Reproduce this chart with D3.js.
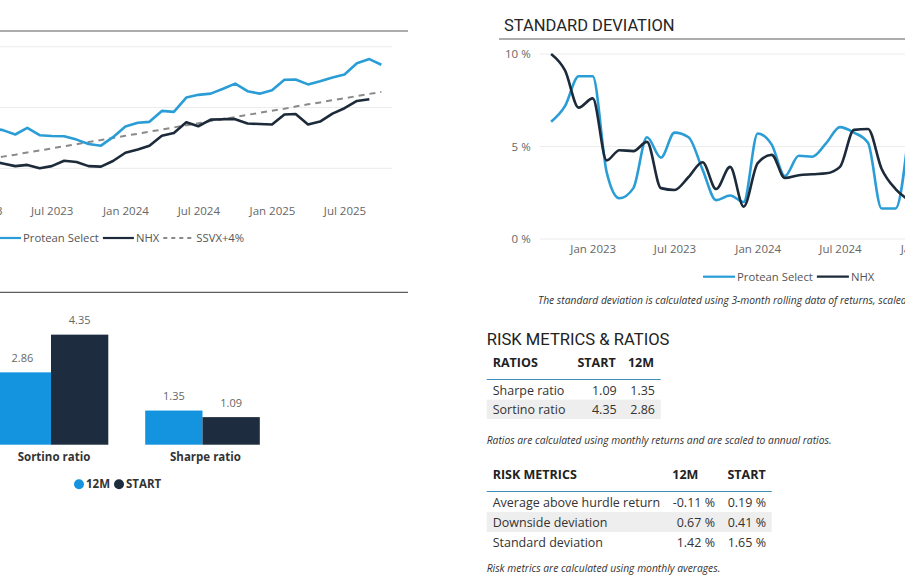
<!DOCTYPE html>
<html>
<head>
<meta charset="utf-8">
<script src="https://cdn.jsdelivr.net/npm/d3@7"></script>
<style>
  body { margin: 0; background: #fff; }
  svg { display: block; font-family: "Open Sans", sans-serif; }
</style>
</head>
<body>
<svg id="chart" width="905" height="582"></svg>
<script>
// ---- performance chart (cumulative index, monthly) ----
var perfMonths = ["2023-01","2023-02","2023-03","2023-04","2023-05","2023-06","2023-07","2023-08","2023-09","2023-10","2023-11","2023-12",
                  "2024-01","2024-02","2024-03","2024-04","2024-05","2024-06","2024-07","2024-08","2024-09","2024-10","2024-11","2024-12",
                  "2025-01","2025-02","2025-03","2025-04","2025-05","2025-06","2025-07","2025-08","2025-09","2025-10"];
var proteanSelect = [116.9,116.5,115.7,113.9,116.6,113.6,113.3,113.2,111.8,110.0,109.3,112.8,
                     117.2,118.7,119.1,123.6,123.2,129.1,130.2,130.7,132.7,134.8,131.7,130.7,
                     132.1,136.4,136.5,134.5,135.8,137.3,138.6,143.2,144.9,142.6];
var nhxIndex = [103.4,103.0,102.0,100.9,101.4,100.0,100.9,103.1,102.6,100.9,100.7,103.0,
                106.4,107.7,109.3,113.4,114.5,118.9,117.3,120.0,120.2,120.2,118.4,118.2,
                118.0,122.1,122.3,118.0,119.2,122.5,124.7,127.7,128.4];
var ssvxPlus4 = [103.0,103.9,104.8,105.6,106.5,107.3,108.2,109.1,109.9,110.8,111.6,112.5,
                 113.4,114.2,115.1,115.9,116.8,117.7,118.5,119.4,120.2,121.1,122.0,122.8,
                 123.7,124.5,125.4,126.3,127.1,128.0,128.8,129.7,130.6,131.4];
var perfTickMonths = ["2023-01","2023-07","2024-01","2024-07","2025-01","2025-07"];
var perfGridValues = [100, 125, 150];

// ---- standard deviation chart (3-month rolling, %) ----
var sdMonths = ["2022-10","2022-11","2022-12",
                "2023-01","2023-02","2023-03","2023-04","2023-05","2023-06","2023-07","2023-08","2023-09","2023-10","2023-11","2023-12",
                "2024-01","2024-02","2024-03","2024-04","2024-05","2024-06","2024-07","2024-08","2024-09","2024-10","2024-11","2024-12"];
var sdProtean = [6.34,7.2,8.8,
                 8.8,3.6,2.2,2.75,5.5,4.4,5.75,5.5,3.75,2.1,2.35,2.0,
                 5.7,5.1,3.4,4.5,4.45,5.2,6.05,5.75,5.2,1.65,1.65,6.0];
var sdNhx = [10.0,9.1,7.1,
             7.6,4.25,4.8,4.75,5.25,2.75,2.65,3.35,4.15,2.7,3.9,1.75,
             4.1,4.55,3.3,3.45,3.5,3.55,3.9,5.9,5.95,3.8,2.7,2.1];
var sdTickMonths = ["2023-01","2023-07","2024-01","2024-07","2025-01"];
var sdTickValues = [0, 5, 10];

// ---- ratio bars ----
var ratioCategories = ["Sortino ratio", "Sharpe ratio"];
var ratio12M = [2.86, 1.35];
var ratioStart = [4.35, 1.09];

// ---- tables ----
var ratioTableNames = ["Sharpe ratio", "Sortino ratio"];
var ratioTableStart = ["1.09", "4.35"];
var ratioTable12M = ["1.35", "2.86"];
var riskTableNames = ["Average above hurdle return", "Downside deviation", "Standard deviation"];
var riskTable12M = ["-0.11 %", "0.67 %", "1.42 %"];
var riskTableStart = ["0.19 %", "0.41 %", "1.65 %"];

var lineBlue = "#2a9dd6", lineDark = "#1c2a3a", barBlue = "#1494df", barDark = "#1d2c3e";
var titleFont = "Roboto, 'Open Sans', sans-serif";
var parseMonth = d3.timeParse("%Y-%m");
var svg = d3.select("#chart");

function headerRule(x1, x2, y) {
    svg.append("line").attr("x1", x1).attr("x2", x2).attr("y1", y).attr("y2", y)
        .attr("stroke", "#5c5c5c").attr("stroke-width", 1.2);
}

function drawLegend(g, items, startX, y, markerLength) {
    var cursor = startX;
    items.forEach(function (item) {
        g.append("line").attr("x1", cursor).attr("x2", cursor + markerLength)
            .attr("y1", y).attr("y2", y)
            .attr("stroke", item.color).attr("stroke-width", 2.2)
            .attr("stroke-dasharray", item.dash || null);
        var label = g.append("text").attr("x", cursor + markerLength + 2).attr("y", y)
            .attr("dy", "0.35em").attr("font-size", 11.3).attr("fill", "#555").text(item.name);
        cursor += markerLength + 2 + label.node().getComputedTextLength() + 4;
    });
}

function drawPerformanceChart() {
    var g = svg.append("g");
    var xScale = d3.scaleTime().domain([parseMonth("2023-07"), parseMonth("2025-01")]).range([51.7, 272]);
    var yScale = d3.scaleLinear().domain([100, 150]).range([168.3, 46.7]);

    headerRule(0, 408, 31);

    g.selectAll(".grid").data(perfGridValues).enter().append("line")
        .attr("x1", -80).attr("x2", 392)
        .attr("y1", function (d) { return yScale(d); })
        .attr("y2", function (d) { return yScale(d); })
        .attr("stroke", "#ececec");

    var xAxis = g.append("g").attr("transform", "translate(0,211)")
        .call(d3.axisBottom(xScale).tickValues(perfTickMonths.map(parseMonth))
            .tickFormat(d3.timeFormat("%b %Y")).tickSize(0));
    xAxis.select(".domain").remove();
    xAxis.selectAll("text").attr("y", 0).attr("dy", "0.35em")
        .attr("font-family", "Open Sans").attr("font-size", 11.5).attr("fill", "#666");

    var line = d3.line()
        .x(function (d) { return xScale(d.date); })
        .y(function (d) { return yScale(d.value); });
    function series(values) {
        return values.map(function (v, i) { return { date: parseMonth(perfMonths[i]), value: v }; });
    }
    g.append("path").datum(series(ssvxPlus4)).attr("d", line)
        .attr("fill", "none").attr("stroke", "#8a8a8a").attr("stroke-width", 2)
        .attr("stroke-dasharray", "6,5");
    g.append("path").datum(series(nhxIndex)).attr("d", line)
        .attr("fill", "none").attr("stroke", lineDark).attr("stroke-width", 2.6)
        .attr("stroke-linejoin", "round");
    g.append("path").datum(series(proteanSelect)).attr("d", line)
        .attr("fill", "none").attr("stroke", lineBlue).attr("stroke-width", 2.6)
        .attr("stroke-linejoin", "round");

    drawLegend(g, [
        { name: "Protean Select", color: lineBlue },
        { name: "NHX", color: lineDark },
        { name: "SSVX+4%", color: "#8a8a8a", dash: "4,4" }
    ], -10, 238, 31);
}

function drawStdDevChart() {
    var g = svg.append("g");
    var xScale = d3.scaleTime().domain([parseMonth("2023-01"), parseMonth("2024-01")]).range([592.7, 757.7]);
    var yScale = d3.scaleLinear().domain([0, 10]).range([239, 54]);

    svg.append("text").attr("x", 504).attr("y", 30.5).attr("font-family", titleFont)
        .attr("font-size", 16.5).attr("fill", "#252525").text("STANDARD DEVIATION");
    headerRule(499, 905, 39);

    g.selectAll(".grid").data(sdTickValues).enter().append("line")
        .attr("x1", 540).attr("x2", 905)
        .attr("y1", function (d) { return yScale(d); })
        .attr("y2", function (d) { return yScale(d); })
        .attr("stroke", "#ececec");
    g.selectAll(".ylab").data(sdTickValues).enter().append("text")
        .attr("x", 530.7).attr("y", function (d) { return yScale(d); }).attr("dy", "0.35em")
        .attr("text-anchor", "end").attr("font-size", 11.5).attr("fill", "#666")
        .text(function (d) { return d + " %"; });

    var xAxis = g.append("g").attr("transform", "translate(0,249)")
        .call(d3.axisBottom(xScale).tickValues(sdTickMonths.map(parseMonth))
            .tickFormat(d3.timeFormat("%b %Y")).tickSize(0));
    xAxis.select(".domain").remove();
    xAxis.selectAll("text").attr("y", 0).attr("dy", "0.35em")
        .attr("font-family", "Open Sans").attr("font-size", 11.5).attr("fill", "#666");

    var line = d3.line().curve(d3.curveMonotoneX)
        .x(function (d) { return xScale(d.date); })
        .y(function (d) { return yScale(d.value); });
    function series(values) {
        return values.map(function (v, i) { return { date: parseMonth(sdMonths[i]), value: v }; });
    }
    g.append("path").datum(series(sdProtean)).attr("d", line)
        .attr("fill", "none").attr("stroke", lineBlue).attr("stroke-width", 2.6);
    g.append("path").datum(series(sdNhx)).attr("d", line)
        .attr("fill", "none").attr("stroke", lineDark).attr("stroke-width", 2.6);

    drawLegend(g, [
        { name: "Protean Select", color: lineBlue },
        { name: "NHX", color: lineDark }
    ], 703, 276.7, 32);

    g.append("text").attr("x", 538).attr("y", 300).attr("dy", "0.35em")
        .attr("font-size", 10.3).attr("font-style", "italic").attr("fill", "#333")
        .text("The standard deviation is calculated using 3-month rolling data of returns, scaled to annual values.");
}

function drawRatioBars() {
    var g = svg.append("g");
    headerRule(0, 408, 292.3);

    var x0 = d3.scaleBand().domain(ratioCategories).range([-6.3, 259.8]).paddingInner(0.2436);
    var x1 = d3.scaleBand().domain(["12M", "START"]).range([0, x0.bandwidth()]);
    var yScale = d3.scaleLinear().domain([0, 5]).range([444.7, 318.2]);

    var bars = [];
    ratioCategories.forEach(function (c, i) {
        bars.push({ cat: c, key: "12M", value: ratio12M[i], color: barBlue });
        bars.push({ cat: c, key: "START", value: ratioStart[i], color: barDark });
    });

    g.selectAll("rect").data(bars).enter().append("rect")
        .attr("x", function (d) { return x0(d.cat) + x1(d.key); })
        .attr("y", function (d) { return yScale(d.value); })
        .attr("width", x1.bandwidth())
        .attr("height", function (d) { return yScale(0) - yScale(d.value); })
        .attr("fill", function (d) { return d.color; });

    g.selectAll(".val").data(bars).enter().append("text")
        .attr("x", function (d) { return x0(d.cat) + x1(d.key) + x1.bandwidth() / 2; })
        .attr("y", function (d) { return yScale(d.value) - 14; }).attr("dy", "0.35em")
        .attr("text-anchor", "middle").attr("font-size", 11).attr("fill", "#666")
        .text(function (d) { return d.value.toFixed(2); });

    g.selectAll(".cat").data(ratioCategories).enter().append("text")
        .attr("x", function (d) { return x0(d) + x0.bandwidth() / 2 + 3; })
        .attr("y", 457.3).attr("dy", "0.35em").attr("text-anchor", "middle")
        .attr("font-size", 11.5).attr("font-weight", "bold").attr("fill", "#333")
        .text(function (d) { return d; });

    // legend
    var cursor = 79;
    [{ name: "12M", color: barBlue }, { name: "START", color: barDark }].forEach(function (item) {
        g.append("circle").attr("cx", cursor).attr("cy", 484.3).attr("r", 5).attr("fill", item.color);
        var t = g.append("text").attr("x", cursor + 7).attr("y", 484.3).attr("dy", "0.35em")
            .attr("font-size", 11.5).attr("font-weight", "bold").attr("fill", "#333").text(item.name);
        cursor += 7 + t.node().getComputedTextLength() + 9;
    });
}

// columns: [{ header, headerX, headerAnchor, valueRight }]
function drawTable(top, left, right, firstHeader, columns, rows, rowHeight) {
    var g = svg.append("g");
    g.append("text").attr("x", left + 6).attr("y", top).attr("dy", "0.35em")
        .attr("font-size", 12.5).attr("font-weight", "bold").attr("fill", "#222").text(firstHeader);
    columns.forEach(function (col) {
        g.append("text").attr("x", col.headerX).attr("y", top).attr("dy", "0.35em")
            .attr("text-anchor", col.headerAnchor).attr("font-size", 12.5).attr("font-weight", "bold")
            .attr("fill", "#222").text(col.header);
    });
    var ruleY = top + 17;
    g.append("line").attr("x1", left).attr("x2", right).attr("y1", ruleY).attr("y2", ruleY)
        .attr("stroke", "#3f8db8").attr("stroke-width", 1.2);
    rows.forEach(function (row, r) {
        var y0 = ruleY + 0.6 + r * rowHeight;
        if (r % 2 === 1) {
            g.append("rect").attr("x", left).attr("y", y0).attr("width", right - left)
                .attr("height", rowHeight).attr("fill", "#eeeeee");
        }
        var cy = y0 + rowHeight / 2 + 0.5;
        g.append("text").attr("x", left + 6).attr("y", cy).attr("dy", "0.35em")
            .attr("font-size", 12.5).attr("fill", "#333").text(row[0]);
        row.slice(1).forEach(function (v, i) {
            g.append("text").attr("x", columns[i].valueRight).attr("y", cy).attr("dy", "0.35em")
                .attr("text-anchor", "end").attr("font-size", 12.5).attr("fill", "#333").text(v);
        });
    });
}

function drawTables() {
    svg.append("text").attr("x", 486.7).attr("y", 345).attr("font-family", titleFont)
        .attr("font-size", 16.6).attr("fill", "#222").text("RISK METRICS & RATIOS");

    var ratioRows = ratioTableNames.map(function (n, i) { return [n, ratioTableStart[i], ratioTable12M[i]]; });
    drawTable(362.5, 486.7, 660.7, "RATIOS", [
        { header: "START", headerX: 615.7, headerAnchor: "end", valueRight: 616.7 },
        { header: "12M", headerX: 654, headerAnchor: "end", valueRight: 655 }
    ], ratioRows, 19.5);

    svg.append("text").attr("x", 486.7).attr("y", 440.7).attr("dy", "0.35em")
        .attr("font-size", 10.3).attr("font-style", "italic").attr("fill", "#333")
        .text("Ratios are calculated using monthly returns and are scaled to annual ratios.");

    var riskRows = riskTableNames.map(function (n, i) { return [n, riskTable12M[i], riskTableStart[i]]; });
    drawTable(474.5, 486.7, 771.7, "RISK METRICS", [
        { header: "12M", headerX: 672.3, headerAnchor: "start", valueRight: 715 },
        { header: "START", headerX: 765.7, headerAnchor: "end", valueRight: 766 }
    ], riskRows, 20);

    svg.append("text").attr("x", 486.7).attr("y", 568.3).attr("dy", "0.35em")
        .attr("font-size", 10.3).attr("font-style", "italic").attr("fill", "#333")
        .text("Risk metrics are calculated using monthly averages.");
}

drawPerformanceChart();
drawStdDevChart();
drawRatioBars();
drawTables();
</script>
</body>
</html>
